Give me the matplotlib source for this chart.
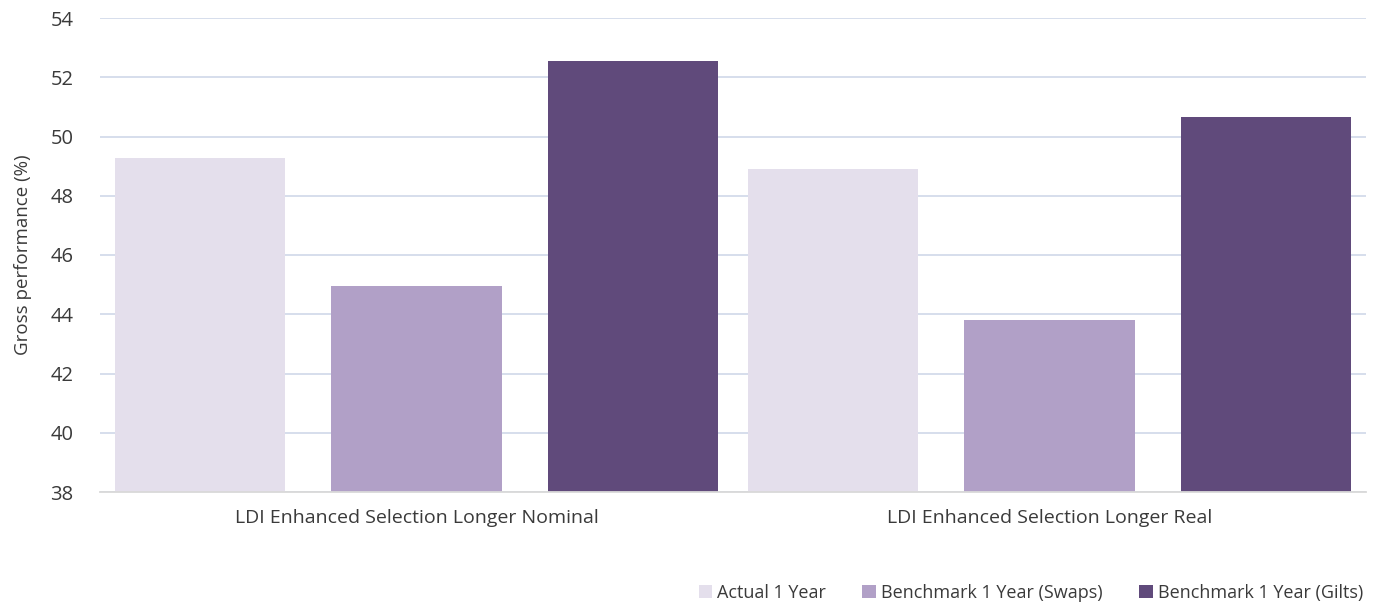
import matplotlib
matplotlib.use("Agg")
import matplotlib.pyplot as plt
import numpy as np
from matplotlib.patches import Patch

categories = ["LDI Enhanced Selection Longer Nominal", "LDI Enhanced Selection Longer Real"]
series_names = ["Actual 1 Year", "Benchmark 1 Year (Swaps)", "Benchmark 1 Year (Gilts)"]
actual = [49.28, 48.91]
swaps = [44.96, 43.81]
gilts = [52.56, 50.67]
yticks = [38, 40, 42, 44, 46, 48, 50, 52, 54]

colors = ["#e4dfec", "#b1a0c7", "#604a7b"]
plt.rcParams['font.family'] = ['Open Sans', 'DejaVu Sans']
txt = "#3a3a3a"

fig = plt.figure(figsize=(13.81, 6.05), dpi=100)
ax = fig.add_axes([100/1381, 113/605, 1266/1381, 474/605])

x = np.arange(len(categories))
offs = [-0.342, 0, 0.342]
w = 0.269
for vals, o, c in zip([actual, swaps, gilts], offs, colors):
    ax.bar(x + o, [v - 38 for v in vals], w, bottom=38, color=c, zorder=3)

ax.set_xlim(-0.5, 1.5)
ax.set_ylim(38, 54)
ax.set_yticks(yticks)
ax.set_yticklabels([str(t) for t in yticks], fontsize=14.5, color=txt)
ax.set_xticks(x)
ax.set_xticklabels(categories, fontsize=14, color=txt)
ax.tick_params(axis='both', length=0)
ax.tick_params(axis='y', pad=19)
ax.tick_params(axis='x', pad=12)
ax.grid(axis='y', color='#d3dbea', linewidth=1.3, zorder=0)
for s in ['top', 'right', 'left']:
    ax.spines[s].set_visible(False)
ax.spines['bottom'].set_color('#d9d9d9')
ax.spines['bottom'].set_linewidth(1.3)
ax.spines['bottom'].set_zorder(4)
ax.set_ylabel("Gross performance (%)", fontsize=13.5, color=txt, labelpad=13)

handles = [Patch(facecolor=c, edgecolor='none') for c in colors]
fig.legend(handles, series_names, loc='lower right', bbox_to_anchor=(0.999, -0.022), ncol=3,
           frameon=False, fontsize=13, handlelength=0.75, handleheight=0.75,
           handletextpad=0.3, columnspacing=2.0, labelcolor=txt)

fig.savefig("out.png", dpi=100)
